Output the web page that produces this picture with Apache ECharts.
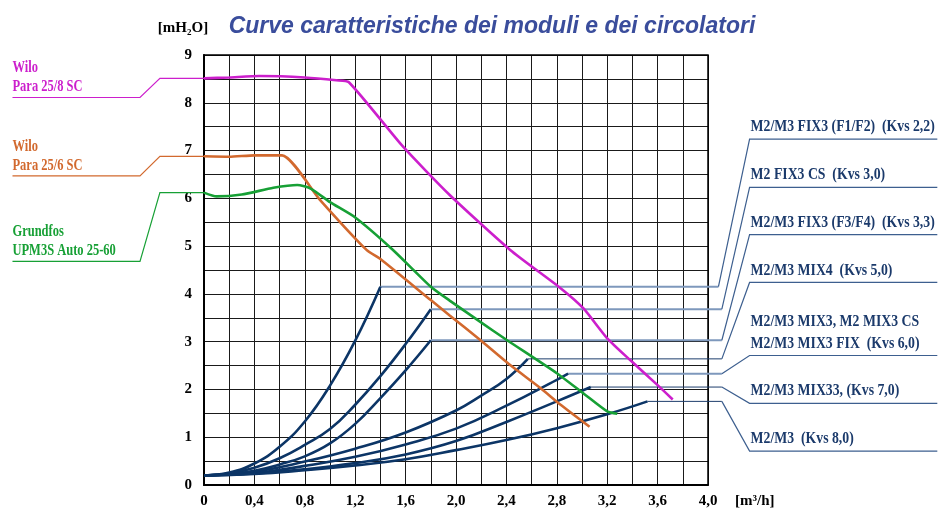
<!DOCTYPE html>
<html>
<head>
<meta charset="utf-8">
<script src="https://cdn.jsdelivr.net/npm/echarts@6/dist/echarts.min.js"></script>
<style>
  html, body { margin: 0; padding: 0; background: #fff; }
  #chart { width: 938px; height: 514px; }
</style>
</head>
<body>
<div id="chart"></div>
<script>
// tick labels
const xTickLabels = ['0', '0,4', '0,8', '1,2', '1,6', '2,0', '2,4', '2,8', '3,2', '3,6', '4,0']
const yTickLabels = ['0', '1', '2', '3', '4', '5', '6', '7', '8', '9']

// pump curves [Q m3/h, H mH2O]
const wiloPara258 = [[0, 8.51], [0.2, 8.53], [0.44, 8.56], [0.8, 8.53], [1.05, 8.47], [1.15, 8.43], [1.58, 7.08], [1.95, 6.07], [2.43, 4.92], [2.83, 4.12], [3.01, 3.7], [3.2, 3.07], [3.38, 2.62], [3.6, 2.09], [3.72, 1.79]]
const wiloPara256 = [[0, 6.88], [0.2, 6.87], [0.4, 6.9], [0.62, 6.9], [0.92, 5.97], [1.29, 4.92], [1.4, 4.73], [1.8, 3.87], [1.95, 3.55], [2.19, 3.04], [2.43, 2.51], [2.67, 2.03], [2.83, 1.68], [3.06, 1.22]]
const grundfosUpm3s = [[0, 6.12], [0.1, 6.04], [0.3, 6.08], [0.55, 6.22], [0.74, 6.28], [0.85, 6.2], [1.0, 5.92], [1.2, 5.6], [1.5, 4.92], [1.8, 4.15], [1.95, 3.86], [2.19, 3.42], [2.4, 3.04], [2.8, 2.34], [3.01, 1.92], [3.2, 1.54], [3.28, 1.49]]

// module pressure drop curves
const kvs22 = [[0, 0.2], [0.2, 0.26], [0.4, 0.45], [0.6, 0.8], [0.8, 1.33], [1.0, 2.08], [1.2, 3.02], [1.4, 4.15]]
const kvs30 = [[0, 0.2], [0.2, 0.24], [0.4, 0.36], [0.6, 0.56], [0.8, 0.84], [1.0, 1.17], [1.2, 1.68], [1.4, 2.28], [1.6, 2.95], [1.8, 3.68]]
const kvs33 = [[0, 0.2], [0.2, 0.23], [0.4, 0.3], [0.6, 0.43], [0.8, 0.6], [1.0, 0.87], [1.2, 1.28], [1.4, 1.82], [1.6, 2.4], [1.8, 3.03]]
const kvs50 = [[0, 0.2], [0.4, 0.28], [0.8, 0.49], [1.2, 0.76], [1.6, 1.1], [2.0, 1.56], [2.2, 1.87], [2.4, 2.22], [2.57, 2.64]]
const kvs60 = [[0, 0.2], [0.4, 0.25], [0.8, 0.4], [1.2, 0.59], [1.6, 0.85], [2.0, 1.18], [2.4, 1.66], [2.8, 2.2], [2.89, 2.33]]
const kvs70 = [[0, 0.2], [0.4, 0.24], [0.8, 0.33], [1.2, 0.46], [1.6, 0.64], [2.0, 0.92], [2.4, 1.32], [2.8, 1.75], [3.07, 2.05]]
const kvs80 = [[0, 0.2], [0.4, 0.23], [0.8, 0.31], [1.2, 0.41], [1.6, 0.54], [2.0, 0.73], [2.4, 0.94], [2.8, 1.19], [3.2, 1.48], [3.52, 1.75]]

const pumpNames = ['Wilo\nPara 25/8 SC', 'Wilo\nPara 25/6 SC', 'Grundfos\nUPM3S Auto 25-60']
const moduleNames = [
  'M2/M3 FIX3 (F1/F2)  (Kvs 2,2)',
  'M2 FIX3 CS  (Kvs 3,0)',
  'M2/M3 FIX3 (F3/F4)  (Kvs 3,3)',
  'M2/M3 MIX4  (Kvs 5,0)',
  'M2/M3 MIX3, M2 MIX3 CS\nM2/M3 MIX3 FIX  (Kvs 6,0)',
  'M2/M3 MIX33, (Kvs 7,0)',
  'M2/M3  (Kvs 8,0)'
]

// leader layout, in axis units (drawn outside the plot)
const pumpRowY = [8.11, 6.47, 4.68]
const moduleRowY = [7.24, 6.23, 5.24, 4.24, 2.71, 1.71, 0.71]
const moduleKneeX = [4.083, 4.11, 4.11, 4.11, 4.11, 4.11, 4.11]
const moduleLeaderLight = [true, true, true, false, true, false, false]

const pumpColors = ['#cc1fcc', '#d2692e', '#17a035']
const navy = '#0c3566'

const chart = echarts.init(document.getElementById('chart'))

const pumpCurves = [wiloPara258, wiloPara256, grundfosUpm3s]
const moduleCurves = [kvs22, kvs30, kvs33, kvs50, kvs60, kvs70, kvs80]

const series = []

moduleCurves.forEach((d, i) => {
  series.push({
    type: 'line', data: d, smooth: 0.45, symbol: 'none', z: 3,
    lineStyle: { color: navy, width: 2.6 }
  })
})

pumpCurves.forEach((d, i) => {
  series.push({
    type: 'line', data: d, smooth: 0.2, symbol: 'none', z: 4,
    lineStyle: { color: pumpColors[i], width: 2.6 }
  })
})

const axisFont = { color: '#000', fontFamily: 'Liberation Serif', fontWeight: 'bold', fontSize: 15 }

const option = {
  animation: false,
  backgroundColor: '#fff',
  grid: { left: 204, right: 230, top: 55, bottom: 29 },
  xAxis: {
    type: 'value', min: 0, max: 4, interval: 0.2,
    axisLine: { show: true, lineStyle: { color: '#000', width: 2 } },
    axisTick: { show: false },
    splitLine: { show: true, lineStyle: { color: '#1a1a1a', width: 1 } },
    axisLabel: Object.assign({
      margin: 9,
      formatter: v => {
        const k = Math.round(v * 10)
        return k % 4 === 0 ? xTickLabels[k / 4] : ''
      }
    }, axisFont)
  },
  yAxis: {
    type: 'value', min: 0, max: 9, interval: 0.5,
    axisLine: { show: true, lineStyle: { color: '#000', width: 2 } },
    axisTick: { show: false },
    splitLine: { show: true, lineStyle: { color: '#1a1a1a', width: 1 } },
    axisLabel: Object.assign({
      margin: 12,
      formatter: v => {
        const k = Math.round(v * 2)
        return k % 2 === 0 ? yTickLabels[k / 2] : ''
      }
    }, axisFont)
  },
  series: series
}

chart.setOption(option)

// frame, leaders and labels placed through the axes
const px = p => chart.convertToPixel({ gridIndex: 0 }, p)
const graphics = []
const tl = px([0, 9]), br = px([4, 0])
graphics.push({
  type: 'rect', shape: { x: tl[0], y: tl[1], width: br[0] - tl[0], height: br[1] - tl[1] },
  style: { fill: 'none', stroke: '#000', lineWidth: 1.5 }, silent: true, z: 0
})

moduleCurves.forEach((d, i) => {
  const end = d[d.length - 1]
  graphics.push({
    type: 'polyline', silent: true, z: 1,
    shape: { points: [px(end), px([moduleKneeX[i], end[1]])] },
    style: moduleLeaderLight[i] ? { stroke: '#7e98bc', lineWidth: 2, fill: null } : { stroke: '#1d3d6c', lineWidth: 1, fill: null }
  })
  graphics.push({
    type: 'polyline', silent: true, z: 1,
    shape: { points: [px([moduleKneeX[i], end[1]]), px([4.33, moduleRowY[i]]), px([5.82, moduleRowY[i]])] },
    style: { stroke: '#3d5f8f', lineWidth: 1.2, fill: null }
  })
  const p = px([4.33, moduleRowY[i]])
  graphics.push({
    type: 'text', x: p[0] + 1, y: p[1] - 1, scaleX: 0.86,
    style: { text: moduleNames[i], font: 'bold 16px "Liberation Serif"', fill: '#1b3a6b', verticalAlign: 'bottom', align: 'left', lineHeight: 22 }
  })
})

pumpCurves.forEach((d, i) => {
  const start = d[0]
  graphics.push({
    type: 'polyline', silent: true, z: 1,
    shape: { points: [px(start), px([-0.35, start[1]]), px([-0.508, pumpRowY[i]]), px([-1.52, pumpRowY[i]])] },
    style: { stroke: pumpColors[i], lineWidth: 1.2, fill: null }
  })
  const p = px([-1.52, pumpRowY[i]])
  graphics.push({
    type: 'text', x: p[0], y: p[1] - 1, scaleX: 0.78,
    style: { text: pumpNames[i], font: 'bold 16px "Liberation Serif"', fill: pumpColors[i], verticalAlign: 'bottom', align: 'left', lineHeight: 19 }
  })
})

graphics.push({
  type: 'text', x: 492, y: 27,
  style: { text: 'Curve caratteristiche dei moduli e dei circolatori', font: 'italic bold 23px "Liberation Sans"', fill: '#3a4d9c', align: 'center', verticalAlign: 'middle' }
})
graphics.push({
  type: 'text', x: 183, y: 28,
  style: { text: '[mH\u2082O]', font: 'bold 15px "Liberation Serif"', fill: '#000', align: 'center', verticalAlign: 'middle' }
})
graphics.push({
  type: 'text', x: 735, y: 501,
  style: { text: '[m\u00b3/h]', font: 'bold 15px "Liberation Serif"', fill: '#000', align: 'left', verticalAlign: 'middle' }
})

chart.setOption({ graphic: graphics })
</script>
</body>
</html>
